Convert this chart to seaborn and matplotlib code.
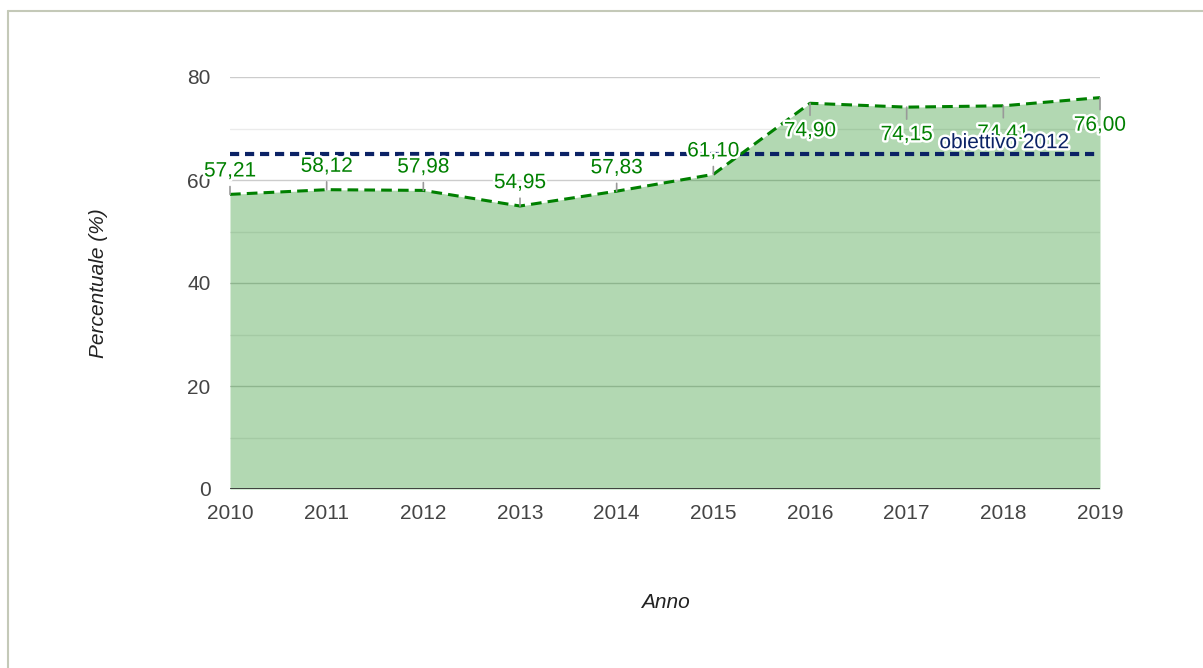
import matplotlib
matplotlib.use("Agg")
import matplotlib.pyplot as plt
import matplotlib.patheffects as pe
import seaborn as sns
import pandas as pd

# data
anni = [2010, 2011, 2012, 2013, 2014, 2015, 2016, 2017, 2018, 2019]
percentuale = [57.21, 58.12, 57.98, 54.95, 57.83, 61.10, 74.90, 74.15, 74.41, 76.00]
obiettivo = 65
obiettivo_label = "obiettivo 2012"
y_ticks = [0, 20, 40, 60, 80]
y_minor = [10, 30, 50, 70]

df = pd.DataFrame({"Anno": anni, "Percentuale": percentuale})

sns.set_style("white")
plt.rcParams["font.family"] = ["Liberation Sans", "DejaVu Sans"]
FS = 15

fig = plt.figure(figsize=(12.03, 6.68), dpi=100)
ax = fig.add_axes([230 / 1203, 1 - 489 / 668, 870 / 1203, 412 / 668])

# gridlines
for v in y_minor:
    ax.axhline(v, color="#ebebeb", lw=1, zorder=0)
for v in y_ticks[1:]:
    ax.axhline(v, color="#cccccc", lw=1, zorder=0)

# area + dashed line
ax.fill_between(df["Anno"], df["Percentuale"], 0, color="green", alpha=0.3, lw=0, zorder=1)
sns.lineplot(data=df, x="Anno", y="Percentuale", ax=ax, color="green",
             lw=2.2, zorder=3)
ax.lines[-1].set_dashes([3.5, 2])
ax.axhline(0, color="#333333", lw=2, zorder=4)

# goal line
ax.axhline(obiettivo, color="#0b2265", lw=3, dashes=(2.2, 1.4), zorder=2)
halo = [pe.withStroke(linewidth=3.5, foreground="white")]
ax.annotate(obiettivo_label, xy=(anni[-1], obiettivo), xytext=(-22, 1.5),
            textcoords="offset points", ha="right", va="bottom",
            color="#0b2265", fontsize=FS, path_effects=halo, zorder=9)

# annotations with stems
for yr, val in zip(anni, percentuale):
    above = val < obiettivo
    off = 10 if above else -13
    ax.annotate(f"{val:.2f}".replace(".", ","), xy=(yr, val), xytext=(0, off),
                textcoords="offset points", ha="center",
                va="bottom" if above else "top",
                color="green", fontsize=FS, path_effects=halo, zorder=7,
                arrowprops=dict(arrowstyle="-", color="#999999", lw=1.2,
                                shrinkA=2, shrinkB=0))

ax.set_xlim(anni[0], anni[-1])
ax.set_ylim(0, 80)
ax.set_xticks(anni)
ax.set_yticks(y_ticks)
ax.tick_params(axis="both", length=0, labelsize=FS, labelcolor="#444444")
ax.tick_params(axis="x", pad=11)
ax.tick_params(axis="y", pad=14)
sns.despine(ax=ax, left=True, bottom=True)

fig.text(99 / 1203, 1 - 283 / 668, "Percentuale (%)", rotation=90, style="italic",
         fontsize=FS, ha="center", va="center", color="#222222")
fig.text(665 / 1203, 1 - 602 / 668, "Anno", style="italic",
         fontsize=FS, ha="center", va="center", color="#222222")
ax.set_xlabel("")
ax.set_ylabel("")

# outer border (top and left)
fig.add_artist(plt.Line2D([8 / 1203, 1], [1 - 11 / 668] * 2, color="#c4c9b8", lw=1.5,
                          transform=fig.transFigure))
fig.add_artist(plt.Line2D([8 / 1203] * 2, [0, 1 - 11 / 668], color="#c4c9b8", lw=1.5,
                          transform=fig.transFigure))

fig.savefig("out.png", dpi=100)
